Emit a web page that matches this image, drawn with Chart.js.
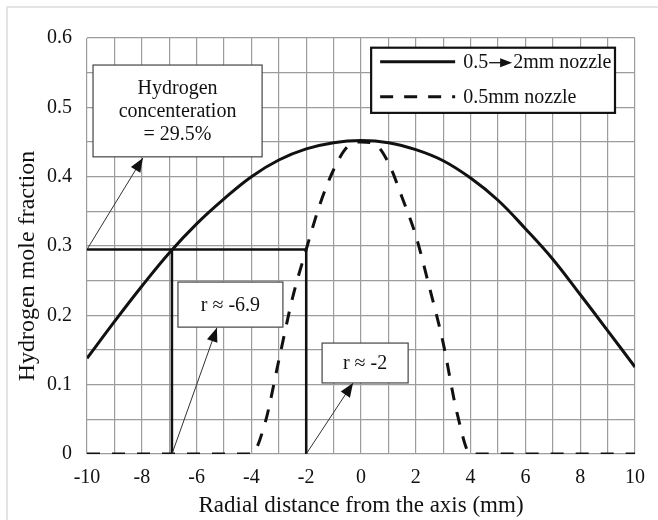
<!DOCTYPE html>
<html>
<head>
<meta charset="utf-8">
<script src="https://cdn.jsdelivr.net/npm/chart.js@4.4.1/dist/chart.umd.min.js"></script>
<style>
  html, body { margin: 0; padding: 0; background: #fff; }
  #wrap { position: relative; width: 658px; height: 520px; }
</style>
</head>
<body>
<div id="wrap"><canvas id="profile-chart"></canvas></div>
<script>
// radial positions (mm) for the expanding nozzle profile
var radius = [-10, -9, -8, -7, -6, -5, -4, -3, -2, -1, 0, 1, 2, 3, 4, 5, 6, 7, 8, 9, 10];
var expandingNozzle = [0.138, 0.191, 0.242, 0.29, 0.332, 0.368, 0.4, 0.424, 0.44, 0.449, 0.452,
                       0.449, 0.439, 0.423, 0.398, 0.366, 0.325, 0.281, 0.23, 0.178, 0.1255];

// the 0.5mm nozzle only has hydrogen between about -4 and 4 mm
var narrowRadius = [-10, -4, -3.5, -3, -2.5, -2, -1.5, -1, -0.5, 0, 0.5, 1, 1.5, 2, 2.5, 3, 3.5, 4, 10];
var narrowNozzle = [0, 0, 0.045, 0.135, 0.225, 0.295, 0.36, 0.41, 0.443, 0.45, 0.447, 0.42, 0.37, 0.315, 0.24, 0.16, 0.06, 0, 0];

// 29.5% level and where each profile crosses it
var crossLevel = 0.295;
var crossRadius = [-6.9, -2];

var xTickLabels = [-10, -8, -6, -4, -2, 0, 2, 4, 6, 8, 10];
var yTickLabels = ["0", "0.1", "0.2", "0.3", "0.4", "0.5", "0.6"];

var seriesNames = ["0.5\u2192 2mm nozzle", "0.5mm nozzle"];
var yTitle = "Hydrogen mole fraction";

var serif = "'Liberation Serif', 'Times New Roman', serif";
var ink = "#111";

function zip(xs, ys) {
    return xs.map(function (x, i) { return { x: x, y: ys[i] }; });
}

// boxes are given in data units so they stay tied to the axes
var callouts = [
    { lines: ["Hydrogen", "concenteration", "= 29.5%"], box: [-9.78, 0.561, -3.61, 0.4286],
      tail: [-10, crossLevel], head: [-7.96, 0.427] },
    { lines: ["r \u2248 -6.9"], box: [-6.68, 0.248, -2.85, 0.183],
      tail: [crossRadius[0], 0], head: [-5.26, 0.182] },
    { lines: ["r \u2248 -2"], box: [-1.42, 0.160, 1.72, 0.1025],
      tail: [crossRadius[1], 0], head: [-0.29, 0.1025] }
];
var legendBox = [0.37, 0.586, 9.27, 0.492];

function arrowHead(ctx, x0, y0, x1, y1, len, half) {
    var a = Math.atan2(y1 - y0, x1 - x0);
    ctx.beginPath();
    ctx.moveTo(x1, y1);
    ctx.lineTo(x1 - len * Math.cos(a) + half * Math.sin(a), y1 - len * Math.sin(a) - half * Math.cos(a));
    ctx.lineTo(x1 - len * Math.cos(a) - half * Math.sin(a), y1 - len * Math.sin(a) + half * Math.cos(a));
    ctx.closePath();
    ctx.fill();
}

var framePlugin = {
    id: "frame",
    beforeDraw: function (chart) {
        var ctx = chart.ctx;
        ctx.save();
        ctx.fillStyle = "#fff";
        ctx.fillRect(0, 0, chart.width, chart.height);
        ctx.strokeStyle = "#dcdcdc";
        ctx.lineWidth = 1.5;
        ctx.beginPath();
        ctx.moveTo(7, chart.height);
        ctx.lineTo(7, 7);
        ctx.lineTo(chart.width, 7);
        ctx.stroke();

        // y title sits a little below the middle of the plot
        ctx.translate(28, chart.chartArea.top + 228);
        ctx.rotate(-Math.PI / 2);
        ctx.fillStyle = ink;
        ctx.font = "24px " + serif;
        ctx.textAlign = "center";
        ctx.textBaseline = "middle";
        ctx.fillText(yTitle, 0, 0);
        ctx.restore();
    }
};

var calloutPlugin = {
    id: "callouts",
    afterDatasetsDraw: function (chart) {
        var ctx = chart.ctx;
        var xs = chart.scales.x, ys = chart.scales.y;
        ctx.save();

        callouts.forEach(function (c) {
            var tx = xs.getPixelForValue(c.tail[0]), ty = ys.getPixelForValue(c.tail[1]);
            var hx = xs.getPixelForValue(c.head[0]), hy = ys.getPixelForValue(c.head[1]);
            ctx.strokeStyle = "#333";
            ctx.fillStyle = "#111";
            ctx.lineWidth = 1;
            ctx.beginPath();
            ctx.moveTo(tx, ty);
            ctx.lineTo(hx, hy);
            ctx.stroke();
            arrowHead(ctx, tx, ty, hx, hy, 14, 5.5);

            var l = xs.getPixelForValue(c.box[0]), t = ys.getPixelForValue(c.box[1]);
            var r = xs.getPixelForValue(c.box[2]), b = ys.getPixelForValue(c.box[3]);
            ctx.fillStyle = "#fff";
            ctx.fillRect(l, t, r - l, b - t);
            ctx.strokeStyle = "#444";
            ctx.lineWidth = 1.2;
            ctx.strokeRect(l, t, r - l, b - t);

            ctx.fillStyle = ink;
            ctx.font = "20px " + serif;
            ctx.textAlign = "center";
            ctx.textBaseline = "middle";
            var lh = 23;
            var cy = (t + b) / 2 - (c.lines.length - 1) * lh / 2 + 1;
            c.lines.forEach(function (s, i) {
                ctx.fillText(s, (l + r) / 2, cy + i * lh);
            });
        });

        // legend
        var l = xs.getPixelForValue(legendBox[0]), t = ys.getPixelForValue(legendBox[1]);
        var r = xs.getPixelForValue(legendBox[2]), b = ys.getPixelForValue(legendBox[3]);
        ctx.fillStyle = "#fff";
        ctx.fillRect(l, t, r - l, b - t);
        ctx.strokeStyle = "#111";
        ctx.lineWidth = 2.2;
        ctx.strokeRect(l, t, r - l, b - t);

        var row1 = t + 14, row2 = t + 49;
        ctx.strokeStyle = ink;
        ctx.lineWidth = 3;
        ctx.beginPath();
        ctx.moveTo(l + 9, row1);
        ctx.lineTo(l + 84, row1);
        ctx.stroke();
        ctx.setLineDash([13, 11]);
        ctx.beginPath();
        ctx.moveTo(l + 9, row2);
        ctx.lineTo(l + 84, row2);
        ctx.stroke();
        ctx.setLineDash([]);

        ctx.fillStyle = ink;
        ctx.font = "20px " + serif;
        ctx.textAlign = "left";
        ctx.textBaseline = "middle";
        var tx = l + 92;
        // "0.5 -> 2mm" with a drawn arrow between the sizes
        var parts = seriesNames[0].split("\u2192 ");
        ctx.fillText(parts[0], tx, row1 + 1);
        var ax = tx + ctx.measureText(parts[0]).width + 1;
        ctx.lineWidth = 1.3;
        ctx.beginPath();
        ctx.moveTo(ax, row1 + 1);
        ctx.lineTo(ax + 14, row1 + 1);
        ctx.stroke();
        ctx.beginPath();
        ctx.moveTo(ax + 11, row1 - 3.5);
        ctx.lineTo(ax + 23, row1 + 1);
        ctx.lineTo(ax + 11, row1 + 5.5);
        ctx.closePath();
        ctx.fill();
        ctx.fillText(parts[1], ax + 24, row1 + 1);
        ctx.fillText(seriesNames[1], tx, row2 + 1);

        ctx.restore();
    }
};

var ctx = document.getElementById("profile-chart").getContext("2d");

var config = {
    type: "line",
    data: {
        datasets: [
            {
                label: seriesNames[0],
                data: zip(radius, expandingNozzle),
                borderColor: ink,
                borderWidth: 3,
                pointRadius: 0,
                tension: 0.4,
            },
            {
                label: seriesNames[1],
                data: zip(narrowRadius, narrowNozzle),
                borderColor: ink,
                borderWidth: 3,
                borderDash: [13, 12],
                pointRadius: 0,
                cubicInterpolationMode: "monotone",
            },
            {
                // 29.5% level out to the narrow profile, then down to the axis
                label: "level",
                data: [
                    { x: radius[0], y: crossLevel },
                    { x: crossRadius[1], y: crossLevel },
                    { x: crossRadius[1], y: 0 },
                ],
                borderColor: ink,
                borderWidth: 2.5,
                pointRadius: 0,
                tension: 0,
            },
            {
                label: "drop",
                data: [
                    { x: crossRadius[0], y: 0 },
                    { x: crossRadius[0], y: crossLevel },
                ],
                borderColor: ink,
                borderWidth: 2.5,
                pointRadius: 0,
                tension: 0,
            },
        ],
    },
    options: {
        responsive: true,
        maintainAspectRatio: false,
        animation: false,
        layout: { padding: { top: 38, right: 23, bottom: 0, left: 0 } },
        plugins: {
            legend: { display: false },
            tooltip: { enabled: false },
        },
        scales: {
            x: {
                type: "linear",
                min: -10,
                max: 10,
                afterFit: function (scale) { scale.height = 66; },
                grid: { color: "#9c9c9c", lineWidth: 1.2, drawTicks: false },
                border: { display: false },
                ticks: {
                    stepSize: 1,
                    autoSkip: false,
                    maxRotation: 0,
                    padding: 12,
                    color: ink,
                    font: { family: serif, size: 20 },
                    callback: function (value) {
                        return xTickLabels.indexOf(value) >= 0 ? String(value) : "";
                    },
                },
                title: {
                    display: true,
                    text: "Radial distance from the axis (mm)",
                    color: ink,
                    font: { family: serif, size: 23 },
                    padding: { top: 0, bottom: 0 },
                },
            },
            y: {
                min: 0,
                max: 0.6,
                afterFit: function (scale) { scale.width = 87; },
                grid: { color: "#9c9c9c", lineWidth: 1.2, drawTicks: false },
                border: { display: false },
                ticks: {
                    stepSize: 0.05,
                    autoSkip: false,
                    padding: 15,
                    color: ink,
                    font: { family: serif, size: 20 },
                    callback: function (value) {
                        var k = Math.round(value * 20);
                        return k % 2 === 0 ? yTickLabels[k / 2] : "";
                    },
                },
                title: { display: false },
            },
        },
    },
    plugins: [framePlugin, calloutPlugin],
};

var profileChart = new Chart(ctx, config);
</script>
</body>
</html>
